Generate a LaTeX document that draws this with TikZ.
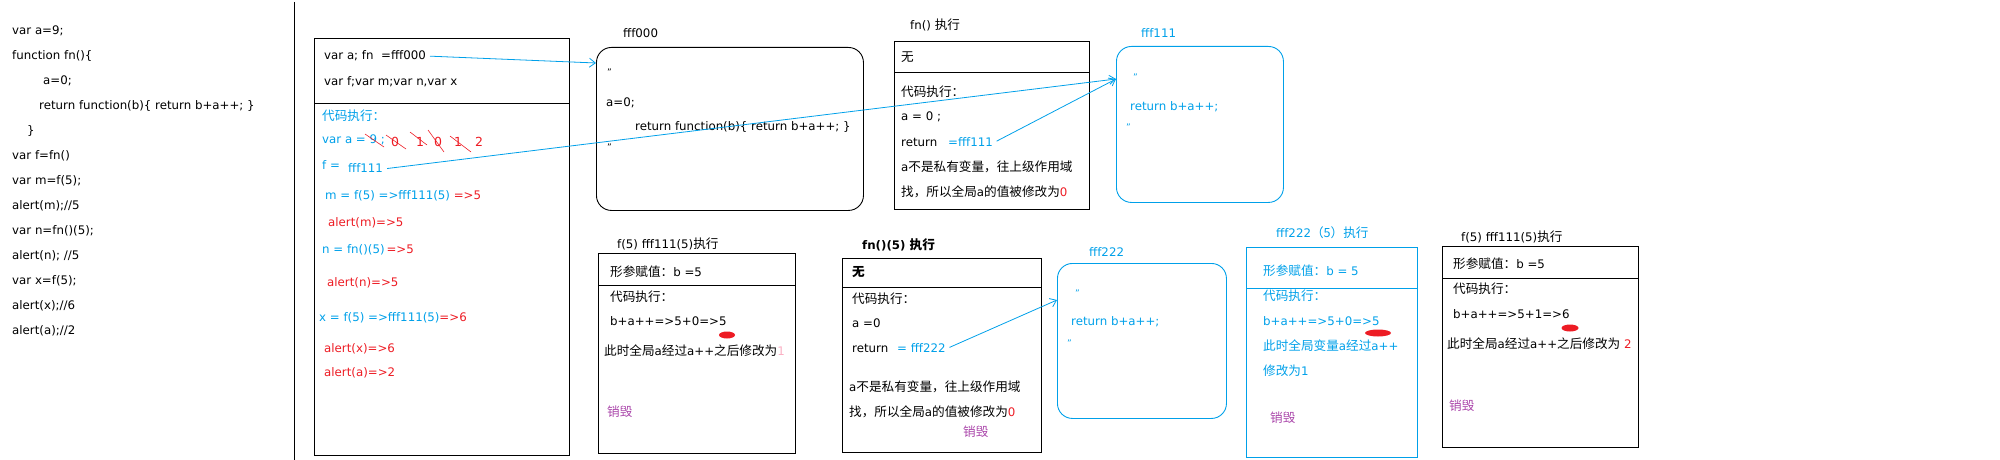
\documentclass[tikz,border=0pt]{standalone}
\usepackage{fontspec}
\setmainfont{DejaVu Sans}
\newfontfamily\cjk[Scale=1.07]{Noto Sans CJK SC}
\usetikzlibrary{arrows.meta}
\definecolor{jsblue}{RGB}{0,160,233}
\definecolor{jsred}{RGB}{237,28,36}
\definecolor{jspurple}{RGB}{170,70,170}
\definecolor{jspink}{RGB}{250,175,195}
\tikzset{
  txt/.style={anchor=west, inner sep=0pt, text height=9.5pt, text depth=2.5pt, font=\fontsize{11.8}{14}\selectfont},
  qmark/.style={anchor=west, inner sep=0pt, font=\fontsize{9}{10}\selectfont},
  box/.style={draw, line width=0.9pt, anchor=north west, inner sep=0pt},
  mem/.style={box, rounded corners=15pt},
  ref/.style={draw=jsblue, line width=0.8pt, shorten <=4pt, -{Straight Barb[length=6pt,width=9pt]}},
  strike/.style={draw=jsred, line width=0.6pt},
}
\begin{document}
\begin{tikzpicture}[x=1pt,y=-1pt]
	\useasboundingbox (0,0) rectangle (2000,460);
	
	% source code
	\node[txt] (c1) at (12,31) {var a=9;};
	\node[txt] (c2) at (12,56) {function fn()\{};
	\node[txt] (c3) at (43,81) {a=0;};
	\node[txt] (c4) at (39,106) {return function(b)\{ return b+a++; \}};
	\node[txt] (c5) at (27,131) {\}};
	\node[txt] (c6) at (12,156) {var f=fn()};
	\node[txt] (c7) at (12,181) {var m=f(5);};
	\node[txt] (c8) at (12,206) {alert(m);//5};
	\node[txt] (c9) at (12,231) {var n=fn()(5);};
	\node[txt] (c10) at (12,256) {alert(n); //5};
	\node[txt] (c11) at (12,281) {var x=f(5);};
	\node[txt] (c12) at (12,306) {alert(x);//6};
	\node[txt] (c13) at (12,331) {alert(a);//2};
	\draw[line width=1pt] (294,2) -- (294,460);
	
	% global scope
	\node[box, minimum width=255pt, minimum height=417pt] (main) at (314,38) {};
	\draw[line width=0.9pt] (main.west |- 0,103) -- (main.east |- 0,103);
	\node[txt] (decl1) at (324,56) {var a; fn\ \ =fff000};
	\node[txt] (decl2) at (324,82) {var f;var m;var n,var x};
	\node[txt, jsblue] (run0) at (322,117) {\cjk 代码执行：};
	\node[txt, jsblue] (vara) at (322,140) {var a = 9 ;};
	\foreach \x/\d in {391/0,416/1,434/0,454/1,475/2}
		\node[txt, jsred, font=\fontsize{12.5}{14}\selectfont] (d\x) at (\x,143) {\d};
	\node[txt, jsblue] (fvar) at (322,166) {f =};
	\node[txt, jsblue] (f111) at (348,169) {fff111};
	\node[txt, jsblue] (mvar) at (325,196) {m = f(5) =>fff111(5) \textcolor{jsred}{=>5}};
	\node[txt, jsred] (alm) at (328,223) {alert(m)=>5};
	\node[txt, jsblue] (nvar) at (322,250) {n = fn()(5)\,\textcolor{jsred}{=>5}};
	\node[txt, jsred] (aln) at (327,283) {alert(n)=>5};
	\node[txt, jsblue] (xvar) at (319,318) {x = f(5) =>fff111(5)\textcolor{jsred}{=>6}};
	\node[txt, jsred] (alx) at (324,349) {alert(x)=>6};
	\node[txt, jsred] (ala) at (324,373) {alert(a)=>2};
	\draw[strike] (365,134) -- (384,147);
	\draw[strike] (386,135) -- (406,149);
	\draw[strike] (410,132) -- (427,145);
	\draw[strike] (428,130) -- (444,152);
	\draw[strike] (450,136) -- (471,152);
	
	% heap fff000
	\node[mem, minimum width=267pt, minimum height=163pt] (b000) at (596,47) {};
	\node[txt] (l000) at (623,34) {fff000};
	\node[qmark] (q1) at (607,72) {"};
	\node[txt] (a0) at (606,103) {a=0;};
	\node[txt] (ret0) at (635,127) {return function(b)\{ return b+a++; \}};
	\node[qmark] (q2) at (607,147) {"};
	\coordinate (in000) at (596,63);
	
	% fn() execution
	\node[box, minimum width=195pt, minimum height=168pt] (bfn) at (894,41) {};
	\draw[line width=0.9pt] (bfn.west |- 0,72) -- (bfn.east |- 0,72);
	\node[txt] (lfn) at (910,26) {fn() {\cjk 执行}};
	\node[txt] (wu1) at (901,58) {\cjk 无};
	\node[txt] (run1) at (901,93) {\cjk 代码执行：};
	\node[txt] (a01) at (901,117) {a = 0 ;};
	\node[txt] (ret1) at (901,143) {return};
	\node[txt, jsblue] (r111) at (948,143) {=fff111};
	\node[txt] (note1) at (901,168) {a{\cjk 不是私有变量，往上级作用域}};
	\node[txt] (note2) at (901,193) {{\cjk 找，所以全局}a{\cjk 的值被修改为}\textcolor{jsred}{0}};
	
	% heap fff111
	\node[mem, draw=jsblue, minimum width=167pt, minimum height=156pt] (b111) at (1116,46) {};
	\node[txt, jsblue] (l111) at (1141,34) {fff111};
	\node[qmark, jsblue] (q3) at (1133,77) {"};
	\node[txt, jsblue] (ret111) at (1130,107) {return b+a++;};
	\node[qmark, jsblue] (q4) at (1126,127) {"};
	\coordinate (in111) at (1116,79);
	
	% f(5) first call
	\node[box, minimum width=197pt, minimum height=200pt] (bf1) at (598,253) {};
	\draw[line width=0.9pt] (bf1.west |- 0,285) -- (bf1.east |- 0,285);
	\node[txt] (lf1) at (617,245) {f(5) fff111(5){\cjk 执行}};
	\node[txt] (arg1) at (610,273) {{\cjk 形参赋值：}b =5};
	\node[txt] (run2) at (610,298) {\cjk 代码执行：};
	\node[txt] (calc1) at (610,322) {b+a++=>5+0=>5};
	\fill[jsred] (727,335) ellipse [x radius=8pt, y radius=3.5pt];
	\node[txt] (glob1) at (604,352) {{\cjk 此时全局}a{\cjk 经过}a++{\cjk 之后修改为}\textcolor{jspink}{1}};
	\node[txt, jspurple] (del1) at (607,413) {\cjk 销毁};
	
	% fn()(5)
	\node[box, minimum width=199pt, minimum height=194pt] (bfn2) at (842,258) {};
	\draw[line width=0.9pt] (bfn2.west |- 0,287) -- (bfn2.east |- 0,287);
	\node[txt, font=\fontsize{11.8}{14}\selectfont\bfseries] (lfn2) at (862,246) {fn()(5) {\cjk 执行}};
	\node[txt, font=\fontsize{11.8}{14}\selectfont\bfseries] (wu2) at (852,273) {\cjk 无};
	\node[txt] (run3) at (852,300) {\cjk 代码执行：};
	\node[txt] (a02) at (852,324) {a =0};
	\node[txt] (ret2) at (852,349) {return};
	\node[txt, jsblue] (r222) at (897,349) {= fff222};
	\node[txt] (note3) at (849,388) {a{\cjk 不是私有变量，往上级作用域}};
	\node[txt] (note4) at (849,413) {{\cjk 找，所以全局}a{\cjk 的值被修改为}\textcolor{jsred}{0}};
	\node[txt, jspurple] (del2) at (963,433) {\cjk 销毁};
	
	% heap fff222
	\node[mem, draw=jsblue, minimum width=169pt, minimum height=155pt] (b222) at (1057,263) {};
	\node[txt, jsblue] (l222) at (1089,253) {fff222};
	\node[qmark, jsblue] (q5) at (1075,293) {"};
	\node[txt, jsblue] (ret222) at (1071,322) {return b+a++;};
	\node[qmark, jsblue] (q6) at (1067,343) {"};
	\coordinate (in222) at (1057,300);
	
	% fff222(5)
	\node[box, draw=jsblue, minimum width=171pt, minimum height=210pt] (b2225) at (1246,247) {};
	\draw[jsblue, line width=0.9pt] (b2225.west |- 0,288) -- (b2225.east |- 0,288);
	\node[txt, jsblue] (l2225) at (1276,234) {fff222{\cjk （5）执行}};
	\node[txt, jsblue] (arg2) at (1263,272) {{\cjk 形参赋值：}b = 5};
	\node[txt, jsblue] (run4) at (1263,297) {\cjk 代码执行：};
	\node[txt, jsblue] (calc2) at (1263,322) {b+a++=>5+0=>5};
	\fill[jsred] (1378,333) ellipse [x radius=13pt, y radius=3.5pt];
	\node[txt, jsblue] (glob2) at (1263,347) {{\cjk 此时全局变量}a{\cjk 经过}a++};
	\node[txt, jsblue] (glob3) at (1263,372) {{\cjk 修改为}1};
	\node[txt, jspurple] (del3) at (1270,419) {\cjk 销毁};
	
	% f(5) second call
	\node[box, minimum width=196pt, minimum height=201pt] (bf3) at (1442,246) {};
	\draw[line width=0.9pt] (bf3.west |- 0,278) -- (bf3.east |- 0,278);
	\node[txt] (lf3) at (1461,238) {f(5) fff111(5){\cjk 执行}};
	\node[txt] (arg3) at (1453,265) {{\cjk 形参赋值：}b =5};
	\node[txt] (run5) at (1453,290) {\cjk 代码执行：};
	\node[txt] (calc3) at (1453,315) {b+a++=>5+1=>6};
	\fill[jsred] (1570,328) ellipse [x radius=8.5pt, y radius=3.5pt];
	\node[txt] (glob4) at (1447,345) {{\cjk 此时全局}a{\cjk 经过}a++{\cjk 之后修改为} \textcolor{jsred}{2}};
	\node[txt, jspurple] (del4) at (1449,407) {\cjk 销毁};
	
	% references
	\draw[ref] (decl1.east) to (in000);
	\draw[ref] (f111.east) to (in111);
	\draw[ref] (r111.east) to (in111);
	\draw[ref] (r222.east) to (in222);
	
\end{tikzpicture}
\end{document}
